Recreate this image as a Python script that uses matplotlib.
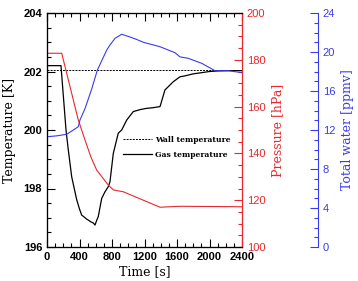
import matplotlib.pyplot as plt
from matplotlib.ticker import MultipleLocator

# Gas temperature (black solid), K
gas_t = [0, 172, 234, 262, 304, 366, 400, 427, 460, 490, 508, 540, 570, 591, 610, 631, 673, 714,
         754, 775, 816, 877, 919, 981, 1062, 1150, 1227, 1300, 1391, 1452, 1554, 1637, 1698, 1800,
         1904, 2000, 2108, 2250, 2400]
gas_T = [202.2, 202.2, 200.0, 199.32, 198.4, 197.61, 197.3, 197.09, 197.02, 196.95, 196.92, 196.86,
         196.82, 196.75, 196.9, 197.04, 197.66, 197.89, 198.06, 198.23, 199.2, 199.89, 200.0, 200.34,
         200.63, 200.7, 200.74, 200.76, 200.8, 201.37, 201.65, 201.82, 201.85, 201.92, 201.96, 202.0,
         202.02, 202.03, 202.03]

# Wall temperature (dotted), K
wall_t = [0, 2400]
wall_T = [202.05, 202.05]

# Pressure (red), hPa
pres_t = [0, 181, 385, 468, 540, 611, 754, 816, 939, 1391, 1637, 2400]
pres_P = [182.8, 182.8, 154.3, 145.7, 138.5, 132.9, 126.5, 124.4, 123.6, 117.0, 117.4, 117.2]

# Total water (blue), ppmv
wat_t = [0, 120, 242, 324, 385, 406, 468, 550, 620, 735, 775, 837, 919, 1000, 1100, 1185, 1391,
         1575, 1637, 1739, 1904, 2068, 2231, 2400]
wat_W = [11.31, 11.4, 11.56, 12.0, 12.34, 13.03, 14.2, 16.2, 18.15, 20.2, 20.72, 21.4, 21.82,
         21.6, 21.3, 21.0, 20.54, 19.93, 19.5, 19.35, 18.84, 18.08, 18.08, 17.88]

red = '#e8282b'
blue = '#3b3bea'
serif = 'DejaVu Serif'

fig = plt.figure(figsize=(3.58, 2.81), dpi=100)
ax = fig.add_axes([47 / 358, 1 - 247 / 281, 195 / 358, 234 / 281])
ax2 = ax.twinx()
ax3 = ax.twinx()

# temperature axis
ax.plot(wall_t, wall_T, color='black', lw=0.7, dashes=(2, 1.2), label='Wall temperature')
ax.plot(gas_t, gas_T, color='black', lw=0.9, label='Gas temperature')
ax.set_xlim(0, 2400)
ax.set_ylim(196, 204)
ax.xaxis.set_major_locator(MultipleLocator(400))
ax.xaxis.set_minor_locator(MultipleLocator(100))
ax.yaxis.set_major_locator(MultipleLocator(2))
ax.yaxis.set_minor_locator(MultipleLocator(0.5))
ax.tick_params(which='both', direction='in', top=True, right=False, width=0.8)
ax.tick_params(which='major', length=6)
ax.tick_params(which='minor', length=3)
for lab in ax.get_xticklabels() + ax.get_yticklabels():
    lab.set_fontweight('bold')
    lab.set_fontsize(8)
    lab.set_fontfamily('Liberation Sans')
ax.set_xlabel('Time [s]', family=serif, fontsize=9, labelpad=2)
ax.set_ylabel('Temperature [K]', family=serif, fontsize=9, labelpad=5)

# pressure axis
ax2.plot(pres_t, pres_P, color=red, lw=0.8)
ax2.set_ylim(100, 200)
ax2.yaxis.set_major_locator(MultipleLocator(20))
ax2.yaxis.set_minor_locator(MultipleLocator(5))
ax2.spines['right'].set_color(red)
ax2.tick_params(axis='y', which='both', direction='in', colors=red, labelsize=8, width=0.8)
ax2.tick_params(axis='y', which='major', length=6)
ax2.tick_params(axis='y', which='minor', length=3)
ax2.set_ylabel('Pressure [hPa]', family=serif, fontsize=9, color=red, labelpad=4)

# water axis
ax3.spines['right'].set_position(('axes', 271 / 195))
ax3.plot(wat_t, wat_W, color=blue, lw=0.8)
ax3.set_ylim(0, 24)
ax3.yaxis.set_major_locator(MultipleLocator(4))
ax3.yaxis.set_minor_locator(MultipleLocator(1))
ax3.spines['right'].set_color(blue)
ax3.tick_params(axis='y', which='both', direction='in', colors=blue, labelsize=8, width=0.8)
ax3.tick_params(axis='y', which='major', length=6)
ax3.tick_params(axis='y', which='minor', length=3)
ax3.set_ylabel('Total water [ppmv]', family=serif, fontsize=9, color=blue, labelpad=4)

for a in (ax2, ax3):
    for lab in a.get_yticklabels():
        lab.set_fontfamily('Liberation Sans')

ax.legend(loc='upper left', bbox_to_anchor=(0.388, 0.475), frameon=False, borderpad=0,
          borderaxespad=0, handlelength=3.9, handletextpad=0.3, labelspacing=0.9,
          prop={'family': serif, 'weight': 'bold', 'size': 5.5})

fig.savefig('out.png', dpi=100)
